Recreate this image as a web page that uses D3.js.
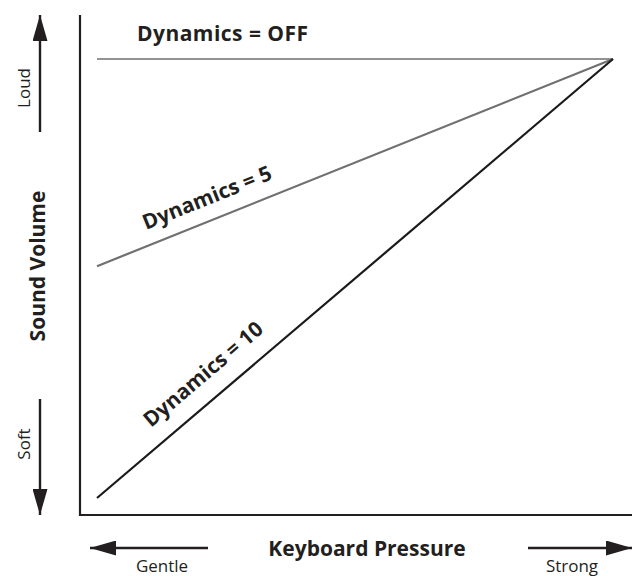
<!DOCTYPE html>
<script src="https://d3js.org/d3.v7.min.js"></script>
<body style="margin:0;background:#fff">
<script>
// response curves: volume at gentle (0) and strong (1) pressure
var series = ["Dynamics = OFF", "Dynamics = 5", "Dynamics = 10"];
var startVolume = [1, 0.528, 0];
var endVolume = [1, 1, 1];
var lineColors = ["#939393", "#707070", "#1a1a1a"];
var axisTitles = ["Keyboard Pressure", "Sound Volume"];
var xEnds = ["Gentle", "Strong"];
var yEnds = ["Soft", "Loud"];

var width = 632, height = 576;
var font = "'Open Sans', sans-serif";

var x = d3.scaleLinear().domain([0, 1]).range([97, 613]);
var y = d3.scaleLinear().domain([0, 1]).range([498, 59]);

var svg = d3.select("body").append("svg")
    .attr("width", width)
    .attr("height", height)
    .style("font-family", font);

var ink = "#231f20";

// axes frame
var axisX = 80, axisY = 515;
svg.append("line")
    .attr("x1", axisX).attr("x2", axisX)
    .attr("y1", 15).attr("y2", axisY + 1)
    .attr("stroke", ink).attr("stroke-width", 2.2);
svg.append("line")
    .attr("x1", axisX - 1).attr("x2", width)
    .attr("y1", axisY).attr("y2", axisY)
    .attr("stroke", ink).attr("stroke-width", 2.2);

// curves
var data = series.map((s, i) => ({name: s, v0: startVolume[i], v1: endVolume[i], color: lineColors[i]}));
svg.append("g")
  .selectAll("line")
  .data(data)
  .join("line")
    .attr("x1", x(0)).attr("x2", x(1))
    .attr("y1", d => y(d.v0)).attr("y2", d => y(d.v1))
    .attr("stroke", d => d.color)
    .attr("stroke-width", 2.2);

// labels for curves
function angle(d) {
  return Math.atan2(y(d.v1) - y(d.v0), x(1) - x(0)) * 180 / Math.PI;
}
svg.append("text")
    .attr("x", 137).attr("y", 41)
    .attr("font-size", 21).attr("font-weight", 700).attr("fill", ink)
    .attr("textLength", 171)
    .text(data[0].name);

[1, 2].forEach(i => {
  var d = data[i];
  var a = angle(d);
  var px = i == 1 ? 146 : 151, py = i == 1 ? 230 : 428;
  svg.append("text")
      .attr("transform", `translate(${px},${py}) rotate(${a})`)
      .attr("font-size", 21).attr("font-weight", 700).attr("fill", ink)
      .text(d.name);
});

// arrowheads
var defs = svg.append("defs");
defs.append("marker")
    .attr("id", "head")
    .attr("viewBox", "0 0 26 15")
    .attr("refX", 26).attr("refY", 7.5)
    .attr("markerWidth", 26).attr("markerHeight", 15)
    .attr("markerUnits", "userSpaceOnUse")
    .attr("orient", "auto")
  .append("path")
    .attr("d", "M0,0L26,7.5L0,15Z")
    .attr("fill", ink);

function arrow(x1, y1, x2, y2) {
  svg.append("line")
      .attr("x1", x1).attr("y1", y1).attr("x2", x2).attr("y2", y2)
      .attr("stroke", ink).attr("stroke-width", 2.4)
      .attr("marker-end", "url(#head)");
}
arrow(40, 132, 40, 15);   // loud
arrow(40, 399, 40, 515);  // soft
arrow(208, 548, 90, 548); // gentle
arrow(528, 548, 632, 548); // strong

// axis titles
svg.append("text")
    .attr("x", 367).attr("y", 556)
    .attr("text-anchor", "middle")
    .attr("font-size", 21).attr("font-weight", 700).attr("fill", ink)
    .text(axisTitles[0]);
svg.append("text")
    .attr("transform", "translate(45,266) rotate(-90)")
    .attr("text-anchor", "middle")
    .attr("font-size", 21).attr("font-weight", 700).attr("fill", ink)
    .text(axisTitles[1]);

// end labels
svg.append("text")
    .attr("x", 162).attr("y", 572)
    .attr("text-anchor", "middle")
    .attr("font-size", 17).attr("fill", ink)
    .text(xEnds[0]);
svg.append("text")
    .attr("x", 572).attr("y", 572)
    .attr("text-anchor", "middle")
    .attr("font-size", 17).attr("fill", ink)
    .text(xEnds[1]);
svg.append("text")
    .attr("transform", "translate(30,444) rotate(-90)")
    .attr("text-anchor", "middle")
    .attr("font-size", 17).attr("fill", ink)
    .text(yEnds[0]);
svg.append("text")
    .attr("transform", "translate(30,88) rotate(-90)")
    .attr("text-anchor", "middle")
    .attr("font-size", 17).attr("fill", ink)
    .text(yEnds[1]);
</script>
</body>
